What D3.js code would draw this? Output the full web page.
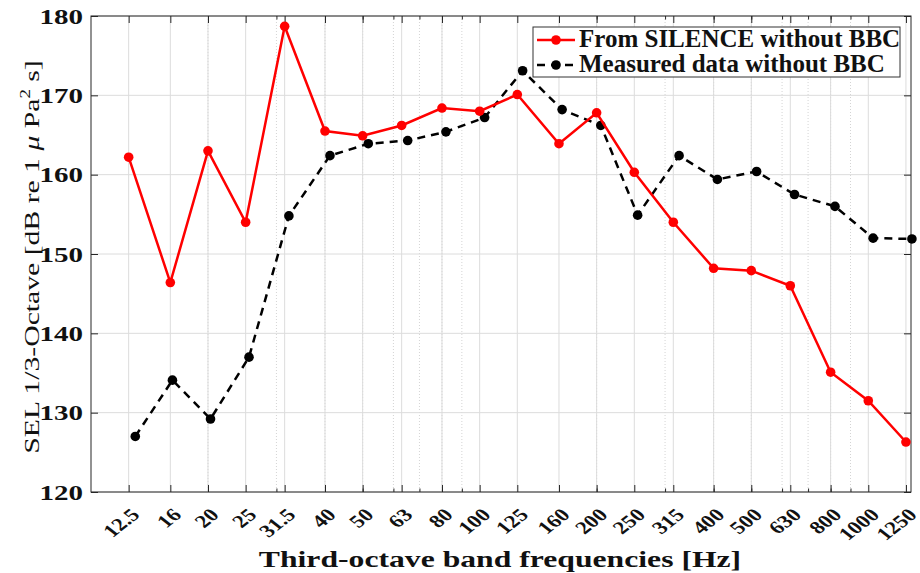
<!DOCTYPE html>
<html>
<head>
<meta charset="utf-8">
<script src="https://cdn.jsdelivr.net/npm/d3@7"></script>
<style>
  html, body { margin: 0; padding: 0; background: #fff; }
  svg { display: block; }
  text { font-family: "Liberation Serif", "Times New Roman", serif; }
</style>
</head>
<body>
<svg id="chart" width="920" height="573"></svg>
<script>
// Third-octave band centre frequencies (Hz) and their tick labels
const bandFreqs = [12.5, 16, 20, 25, 31.5, 40, 50, 63, 80, 100, 125, 160, 200, 250, 315, 400, 500, 630, 800, 1000, 1250];
const bandLabels = ["12.5", "16", "20", "25", "31.5", "40", "50", "63", "80", "100", "125", "160", "200", "250", "315", "400", "500", "630", "800", "1000", "1250"];

// Modelled SEL (SILENCE, no bubble curtain), plotted at the nominal band frequencies
const silenceSEL = [162.2, 146.4, 163.0, 154.0, 178.7, 165.5, 164.9, 166.2, 168.4, 168.0, 170.1, 163.9, 167.8, 160.3, 154.0, 148.2, 147.9, 146.0, 135.1, 131.5, 126.3];

// Measured SEL (no bubble curtain) and the frequencies at which it is plotted
const measuredFreqs = [13.0, 16.2, 20.3, 25.5, 32.3, 41.2, 51.7, 65.3, 81.9, 103, 129, 163, 205, 255, 326, 409, 516, 646, 821, 1029, 1295];
const measuredSEL = [127.0, 134.1, 129.2, 137.0, 154.8, 162.4, 163.9, 164.3, 165.4, 167.2, 173.1, 168.2, 166.2, 154.9, 162.4, 159.4, 160.4, 157.5, 156.0, 152.0, 151.9];

// Log-decade minor ticks / grid
const minorTicks = [20, 30, 40, 50, 60, 70, 80, 90, 200, 300, 400, 500, 600, 700, 800, 900];
const yTicks = [120, 130, 140, 150, 160, 170, 180];

const legendLabels = ["From SILENCE without BBC", "Measured data without BBC"];

const svg = d3.select("#chart");
const margin = { left: 91, right: 9, top: 16, bottom: 81 };
const W = 920, H = 573;
const innerW = W - margin.left - margin.right;
const innerH = H - margin.top - margin.bottom;

const x = d3.scaleLog().domain([10, 1288]).range([0, innerW]);
const y = d3.scaleLinear().domain([120, 180]).range([innerH, 0]);

const g = svg.append("g").attr("transform", `translate(${margin.left},${margin.top})`);

// Minor (dotted) vertical grid
g.append("g").selectAll("line").data(minorTicks).join("line")
  .attr("x1", d => x(d)).attr("x2", d => x(d))
  .attr("y1", 0).attr("y2", innerH)
  .attr("stroke", "#d4d4d4").attr("stroke-width", 1)
  .attr("stroke-dasharray", "1,2");

// Major vertical grid
g.append("g").selectAll("line").data(bandFreqs).join("line")
  .attr("x1", d => x(d)).attr("x2", d => x(d))
  .attr("y1", 0).attr("y2", innerH)
  .attr("stroke", "#dcdcdc").attr("stroke-width", 1);

// Horizontal grid
g.append("g").selectAll("line").data(yTicks).join("line")
  .attr("x1", 0).attr("x2", innerW)
  .attr("y1", d => y(d)).attr("y2", d => y(d))
  .attr("stroke", "#dcdcdc").attr("stroke-width", 1);

// Axes with inward ticks on all four sides
const axisColor = "#262626";
function styleAxis(sel) {
  sel.select(".domain").remove();
  sel.selectAll(".tick line").attr("stroke", axisColor);
}
g.append("g").attr("transform", `translate(0,${innerH})`)
  .call(d3.axisBottom(x).tickValues(bandFreqs).tickSize(-7).tickFormat(""))
  .call(styleAxis);
g.append("g").attr("transform", `translate(0,${innerH})`)
  .call(d3.axisBottom(x).tickValues(minorTicks).tickSize(-3.5).tickFormat(""))
  .call(styleAxis);
g.append("g")
  .call(d3.axisTop(x).tickValues(bandFreqs).tickSize(-7).tickFormat(""))
  .call(styleAxis);
g.append("g")
  .call(d3.axisTop(x).tickValues(minorTicks).tickSize(-3.5).tickFormat(""))
  .call(styleAxis);
g.append("g")
  .call(d3.axisLeft(y).tickValues(yTicks).tickSize(-7).tickFormat(""))
  .call(styleAxis);
g.append("g").attr("transform", `translate(${innerW},0)`)
  .call(d3.axisRight(y).tickValues(yTicks).tickSize(-7).tickFormat(""))
  .call(styleAxis);

g.append("rect").attr("x", 0).attr("y", 0).attr("width", innerW).attr("height", innerH)
  .attr("fill", "none").attr("stroke", axisColor).attr("stroke-width", 1);

// Y tick labels (wide bold serif)
g.append("g").selectAll("text").data(yTicks).join("text")
  .attr("transform", d => `translate(-8,${y(d) + 3}) scale(1.45,1)`)
  .attr("text-anchor", "end").attr("dominant-baseline", "middle")
  .attr("font-size", 20).attr("font-weight", "bold").attr("fill", "#111")
  .text(d => d);

// X tick labels, rotated 45 degrees
g.append("g").selectAll("text").data(bandFreqs).join("text")
  .attr("transform", d => `translate(${x(d) + 8.5},${innerH + 21}) scale(1.28,1) rotate(-45)`)
  .attr("text-anchor", "end").attr("dominant-baseline", "middle")
  .attr("font-size", 18).attr("font-weight", "bold").attr("fill", "#111")
  .text((d, i) => bandLabels[i]);

// Axis titles
svg.append("text")
  .attr("transform", "translate(500,567) scale(1.32,1)")
  .attr("text-anchor", "middle")
  .attr("font-size", 24).attr("font-weight", "bold")
  .attr("fill", "#111")
  .text("Third-octave band frequencies [Hz]");

const yTitle = svg.append("text")
  .attr("transform", "translate(39,257) rotate(-90) scale(1.35,1)")
  .attr("text-anchor", "middle")
  .attr("font-size", 22).attr("fill", "#111");
yTitle.append("tspan").text("SEL 1/3-Octave [dB re 1 ");
yTitle.append("tspan").attr("font-style", "italic").text("μ");
yTitle.append("tspan").text(" Pa");
yTitle.append("tspan").attr("font-size", 14).attr("dy", -9).text("2");
yTitle.append("tspan").attr("dy", 9).text(" s]");

// Data series
const red = "#ff0000";
const silencePts = bandFreqs.map((f, i) => [f, silenceSEL[i]]);
const measuredPts = measuredFreqs.map((f, i) => [f, measuredSEL[i]]);
const line = d3.line().x(d => x(d[0])).y(d => y(d[1]));

g.append("path").datum(measuredPts).attr("d", line)
  .attr("fill", "none").attr("stroke", "#000").attr("stroke-width", 2.5)
  .attr("stroke-dasharray", "8,6");
g.append("g").selectAll("circle").data(measuredPts).join("circle")
  .attr("cx", d => x(d[0])).attr("cy", d => y(d[1])).attr("r", 4.8).attr("fill", "#000");

g.append("path").datum(silencePts).attr("d", line)
  .attr("fill", "none").attr("stroke", red).attr("stroke-width", 2.5);
g.append("g").selectAll("circle").data(silencePts).join("circle")
  .attr("cx", d => x(d[0])).attr("cy", d => y(d[1])).attr("r", 4.8).attr("fill", red);

// Legend
const lg = svg.append("g").attr("transform", "translate(533,27)");
lg.append("rect").attr("width", 367).attr("height", 50)
  .attr("fill", "#fff").attr("stroke", "#333").attr("stroke-width", 1);
const legendStyles = [
  { color: red, dash: null },
  { color: "#000", dash: "8,6" }
];
legendStyles.forEach((s, i) => {
  const cy = 13 + i * 25;
  lg.append("line").attr("x1", 4).attr("x2", 42).attr("y1", cy).attr("y2", cy)
    .attr("stroke", s.color).attr("stroke-width", 2.5)
    .attr("stroke-dasharray", s.dash);
  lg.append("circle").attr("cx", 23).attr("cy", cy).attr("r", 4.8).attr("fill", s.color);
  lg.append("text").attr("x", 46).attr("y", cy + 1)
    .attr("dominant-baseline", "middle")
    .attr("font-size", 25).attr("font-weight", "bold").attr("fill", "#111")
    .text(legendLabels[i]);
});
</script>
</body>
</html>
